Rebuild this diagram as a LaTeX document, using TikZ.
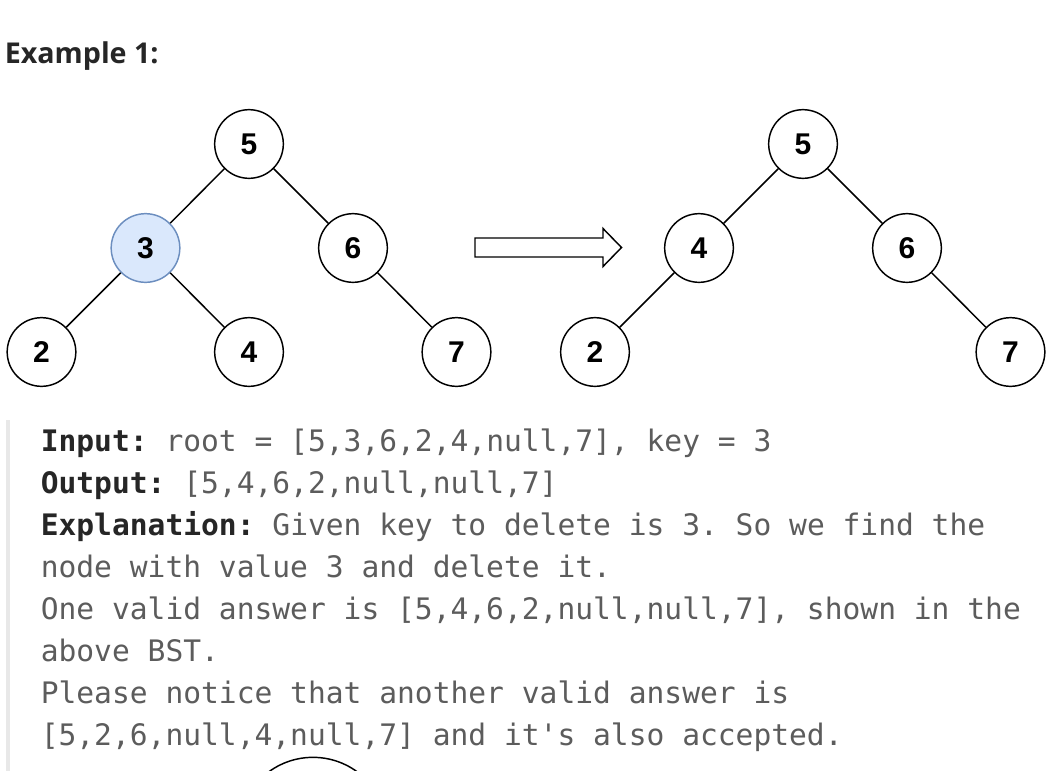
\documentclass[tikz,border=0pt]{standalone}
\usepackage{fontspec}
\setmainfont{Liberation Sans}
\newfontfamily\headfont{Open Sans}
\newfontfamily\codefont{DejaVu Sans Mono}
\definecolor{textdark}{HTML}{262626}
\definecolor{codegray}{HTML}{5C5C5C}
\definecolor{barcol}{HTML}{E8E8E8}
\definecolor{hlfill}{HTML}{DAE8FC}
\definecolor{hldraw}{HTML}{6C8EBF}
\frenchspacing
\begin{document}
\begin{tikzpicture}[x=0.75pt,y=-0.75pt,
  treenode/.style={circle, draw=black, fill=white, line width=1.1pt, minimum size=51.5pt, inner sep=0pt,
     font=\bfseries\fontsize{22.5}{25}\selectfont},
  hlnode/.style={treenode, fill=hlfill, draw=hldraw},
  edge/.style={line width=1.1pt, black},
  codeline/.style={anchor=base west, inner sep=0pt, text=codegray, font=\codefont\fontsize{22.2}{26}\selectfont}
]
\useasboundingbox (0,0) rectangle (1053,771);
\fill[white] (0,0) rectangle (1053,771);

% heading
\node[anchor=base west, inner sep=0pt, text=textdark, font=\headfont\bfseries\fontsize{21.5}{24}\selectfont] (head) at (4.5,63) {Example 1:};

% left tree
\node[treenode] (a5) at (249,144) {5};
\node[hlnode]   (a3) at (145.5,248) {3};
\node[treenode] (a6) at (353,248) {6};
\node[treenode] (a2) at (41.5,352) {2};
\node[treenode] (a4) at (249,352) {4};
\node[treenode] (a7) at (456.5,352) {7};
\draw[edge] (a5) -- (a3);
\draw[edge] (a5) -- (a6);
\draw[edge] (a3) -- (a2);
\draw[edge] (a3) -- (a4);
\draw[edge] (a6) -- (a7);

% arrow
\draw[line width=1.1pt, fill=white] (475,238) -- (603,238) -- (603,228.5) -- (621.5,247.5) -- (603,266.5) -- (603,257) -- (475,257) -- cycle;

% right tree
\node[treenode] (b5) at (803,144) {5};
\node[treenode] (b4) at (699,248) {4};
\node[treenode] (b6) at (907,248) {6};
\node[treenode] (b2) at (595,352) {2};
\node[treenode] (b7) at (1010.5,352) {7};
\draw[edge] (b5) -- (b4);
\draw[edge] (b5) -- (b6);
\draw[edge] (b4) -- (b2);
\draw[edge] (b6) -- (b7);

% quote bar
\fill[barcol] (6,420) rectangle (10,771);

% code text
\node[codeline] (l1) at (40.5,451) {{\bfseries\color{textdark}Input:} root = [5,3,6,2,4,null,7], key = 3};
\node[codeline] (l2) at (40.5,493) {{\bfseries\color{textdark}Output:} [5,4,6,2,null,null,7]};
\node[codeline] (l3) at (40.5,535) {{\bfseries\color{textdark}Explanation:} Given key to delete is 3. So we find the};
\node[codeline] (l4) at (40.5,577) {node with value 3 and delete it.};
\node[codeline] (l5) at (40.5,619) {One valid answer is [5,4,6,2,null,null,7], shown in the};
\node[codeline] (l6) at (40.5,661) {above BST.};
\node[codeline] (l7) at (40.5,703) {Please notice that another valid answer is};
\node[codeline] (l8) at (40.5,745) {[5,2,6,null,4,null,7] and it\textquotesingle s also accepted.};

% partially visible circle at the bottom
\begin{scope}
\clip (0,0) rectangle (1053,771);
\node[circle, draw=black, line width=1.1pt, minimum size=112pt, inner sep=0pt] (cut) at (313,832) {};
\end{scope}
\end{tikzpicture}
\end{document}
